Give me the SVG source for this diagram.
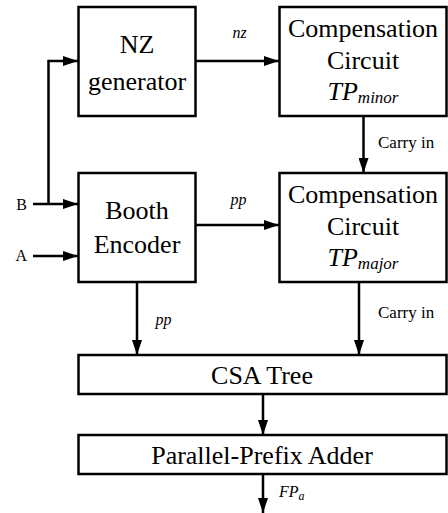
<svg xmlns="http://www.w3.org/2000/svg" width="448" height="513" viewBox="0 0 448 513" font-family="Liberation Serif, Times New Roman, Times, Noto Serif, serif">
  <style>
    .box { fill: #fff; stroke: #000; stroke-width: 2.5; }
    .wire { fill: none; stroke: #000; stroke-width: 2.5; }
    .big { font-size: 26px; text-anchor: middle; }
    .lbl { font-size: 16px; }
    .it { font-style: italic; }
  </style>
  <defs>
    <marker id="arrow" viewBox="0 0 15 10" refX="15" refY="5" markerWidth="15" markerHeight="10" markerUnits="userSpaceOnUse" orient="auto">
      <path d="M0,0 L15,5 L0,10 Z" fill="#000"/>
    </marker>
  </defs>

  <rect width="448" height="513" fill="#fff"/>

  <!-- connectors -->
  <g id="connectors">
    <path class="wire" d="M196,61 H279" marker-end="url(#arrow)"/>
    <path class="wire" d="M33,204 H78" marker-end="url(#arrow)"/>
    <path class="wire" d="M48.5,204 V61 H78" marker-end="url(#arrow)"/>
    <path class="wire" d="M33,256 H78" marker-end="url(#arrow)"/>
    <path class="wire" d="M196,225 H279" marker-end="url(#arrow)"/>
    <path class="wire" d="M363.5,116 V173" marker-end="url(#arrow)"/>
    <path class="wire" d="M137,282 V355" marker-end="url(#arrow)"/>
    <path class="wire" d="M359,282 V355" marker-end="url(#arrow)"/>
    <path class="wire" d="M263,394 V435" marker-end="url(#arrow)"/>
    <path class="wire" d="M263,474 V513" marker-end="url(#arrow)"/>

    <text class="lbl it" x="239.5" y="38" text-anchor="middle">nz</text>
    <text class="lbl it" x="238.5" y="205" text-anchor="middle">pp</text>
    <text class="lbl it" x="163.5" y="325" text-anchor="middle">pp</text>
    <text class="lbl" x="378" y="148" style="font-size:17px">Carry in</text>
    <text class="lbl" x="378" y="318" style="font-size:17px">Carry in</text>
    <text class="lbl" x="27" y="210" text-anchor="end">B</text>
    <text class="lbl" x="27" y="261" text-anchor="end">A</text>
    <text class="lbl it" x="279" y="497">FP<tspan font-size="12" dy="3">a</tspan></text>
  </g>

  <g id="nz-generator">
    <rect class="box" x="78.5" y="7" width="117" height="109"/>
    <text class="big" x="137" y="53">NZ</text>
    <text class="big" x="137" y="90">generator</text>
  </g>

  <g id="comp-minor">
    <rect class="box" x="279.5" y="7" width="167" height="109"/>
    <text class="big" x="363" y="37">Compensation</text>
    <text class="big" x="363" y="69">Circuit</text>
    <text class="big" x="363" y="100"><tspan class="it">TP</tspan><tspan class="it" font-size="17" dy="3">minor</tspan></text>
  </g>

  <g id="booth-encoder">
    <rect class="box" x="78.5" y="173" width="117" height="109"/>
    <text class="big" x="137" y="219">Booth</text>
    <text class="big" x="137" y="253">Encoder</text>
  </g>

  <g id="comp-major">
    <rect class="box" x="279.5" y="173" width="167" height="109"/>
    <text class="big" x="363" y="203">Compensation</text>
    <text class="big" x="363" y="235">Circuit</text>
    <text class="big" x="363" y="266"><tspan class="it">TP</tspan><tspan class="it" font-size="17" dy="3">major</tspan></text>
  </g>

  <g id="csa-tree">
    <rect class="box" x="78.5" y="355" width="368" height="39"/>
    <text class="big" x="262" y="384">CSA Tree</text>
  </g>

  <g id="prefix-adder">
    <rect class="box" x="78.5" y="435" width="368" height="39"/>
    <text class="big" x="262" y="464">Parallel-Prefix Adder</text>
  </g>
</svg>
